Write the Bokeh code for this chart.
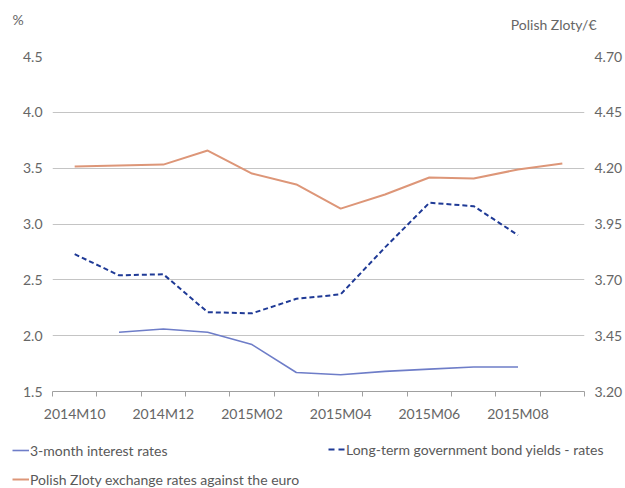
import numpy as np
from bokeh.plotting import figure
from bokeh.models import (Range1d, LinearAxis, FixedTicker, Legend, LegendItem,
                          NumeralTickFormatter, ColumnDataSource)
from bokeh.core.properties import value
from bokeh.embed import file_html
from bokeh.resources import INLINE

nan = np.nan
months = ["2014M10", "2014M11", "2014M12", "2015M01", "2015M02", "2015M03",
          "2015M04", "2015M05", "2015M06", "2015M07", "2015M08", "2015M09"]
rate_3m = [nan, 2.03, 2.06, 2.03, 1.92, 1.67, 1.65, 1.68, 1.70, 1.72, 1.72, nan]
bond_lt = [2.73, 2.54, 2.55, 2.21, 2.20, 2.33, 2.37, 2.79, 3.19, 3.16, 2.90, nan]
pln_eur = [4.207, 4.212, 4.216, 4.279, 4.176, 4.127, 4.019, 4.082, 4.158, 4.154, 4.194, 4.221]
left_ticks = [1.5, 2.0, 2.5, 3.0, 3.5, 4.0, 4.5]
right_ticks = [3.20, 3.45, 3.70, 3.95, 4.20, 4.45, 4.70]
left_unit = "%"
right_unit = "Polish Zloty/€"
names = ["3-month interest rates",
         "Long-term government bond yields - rates",
         "Polish Zloty exchange rates against the euro"]

FONT = "Lato"
GRAY = "#666666"
C_3M, C_LT, C_FX = "#6E7DC8", "#1F3A96", "#DD9678"
W = 625
HEAD_H = 40
FOOT_H = 58
MAIN_H = 488 - HEAD_H - FOOT_H

# ---------- header with the axis unit captions ----------
head = figure(width=W, height=HEAD_H, output_backend="svg", toolbar_location=None,
              x_range=Range1d(0, W), y_range=Range1d(HEAD_H, 0), min_border=0,
              x_axis_location=None, y_axis_location=None)
head.grid.visible = False
head.outline_line_color = None
head.text(x=[12], y=[19], text=[left_unit], text_font=value(FONT), text_font_size="14px",
          text_color=GRAY, text_baseline="middle", text_align="left")
head.text(x=[596], y=[24], text=[right_unit], text_font=value(FONT), text_font_size="14px",
          text_color=GRAY, text_baseline="middle", text_align="right")

# ---------- main chart ----------
x = [i + 0.5 for i in range(len(months))]
src = ColumnDataSource(dict(x=x, r3=rate_3m, lt=bond_lt, fx=pln_eur))

p = figure(width=W, height=MAIN_H, output_backend="svg", toolbar_location=None,
           x_range=Range1d(0, len(months)), y_range=Range1d(left_ticks[0], left_ticks[-1]),
           min_border_left=52, min_border_right=40, min_border_top=56 - HEAD_H,
           min_border_bottom=HEAD_H + MAIN_H - 391)
p.outline_line_color = None
p.extra_y_ranges = {"fx": Range1d(right_ticks[0], right_ticks[-1])}

xa = p.xaxis[0]
xa.ticker = FixedTicker(ticks=[x[i] for i in range(0, len(months), 2)],
                        minor_ticks=list(range(len(months) + 1)))
xa.major_label_overrides = {x[i]: months[i] for i in range(0, len(months), 2)}
xa.major_tick_line_color = None
xa.major_tick_out = 6
xa.major_label_standoff = 7
xa.minor_tick_in = 0
xa.minor_tick_out = 5
xa.minor_tick_line_color = "#a0a0a0"
xa.axis_line_color = "#a0a0a0"
xa.major_label_text_font = FONT
xa.major_label_text_font_size = "14px"
xa.major_label_text_color = GRAY

ya = p.yaxis[0]
ya.ticker = FixedTicker(ticks=left_ticks)
ya.formatter = NumeralTickFormatter(format="0.0")
ya.axis_line_color = None
ya.major_tick_line_color = None
ya.minor_tick_line_color = None
ya.major_tick_out = 0
ya.major_label_standoff = 10
ya.major_label_text_font = FONT
ya.major_label_text_font_size = "14px"
ya.major_label_text_color = GRAY

ra = LinearAxis(y_range_name="fx", ticker=FixedTicker(ticks=right_ticks),
                formatter=NumeralTickFormatter(format="0.00"))
ra.axis_line_color = None
ra.major_tick_line_color = None
ra.minor_tick_line_color = None
ra.major_tick_out = 0
ra.major_label_standoff = 10
ra.major_label_text_font = FONT
ra.major_label_text_font_size = "14px"
ra.major_label_text_color = GRAY
p.add_layout(ra, "right")

p.xgrid.visible = False
p.ygrid.ticker = FixedTicker(ticks=left_ticks)
p.ygrid.grid_line_color = "#c4c4c4"

p.line("x", "fx", source=src, y_range_name="fx", line_color=C_FX, line_width=2)
p.line("x", "lt", source=src, line_color=C_LT, line_width=2, line_dash="5 3")
p.line("x", "r3", source=src, line_color=C_3M, line_width=1.6)

# ---------- footer legend ----------
foot = figure(width=W, height=FOOT_H, output_backend="svg", toolbar_location=None,
              x_range=Range1d(0, 1), y_range=Range1d(0, 1), min_border=0,
              x_axis_location=None, y_axis_location=None)
foot.grid.visible = False
foot.outline_line_color = None
# legend keys only: their data lie outside the footer's visible range
k_3m = foot.line(x=[5, 6], y=[5, 6], line_color=C_3M, line_width=1.6)
k_lt = foot.line(x=[5, 6], y=[5, 6], line_color=C_LT, line_width=2, line_dash="6 4")
k_fx = foot.line(x=[5, 6], y=[5, 6], line_color=C_FX, line_width=2)

def mk_legend(items, loc):
    return Legend(items=items, location=loc, orientation="vertical",
                  label_text_font=FONT, label_text_font_size="14px",
                  label_text_color="#595959", glyph_width=17, glyph_height=18,
                  label_height=18, label_standoff=1, spacing=11, padding=0, margin=0,
                  background_fill_alpha=0, border_line_color=None)

lgA = mk_legend([LegendItem(label=names[0], renderers=[k_3m]),
                 LegendItem(label=names[2], renderers=[k_fx])], (12, 0))
lgB = mk_legend([LegendItem(label=names[1], renderers=[k_lt])], (328, 30))
foot.add_layout(lgA, "center")
foot.add_layout(lgB, "center")

open("out.html", "w").write(file_html([head, p, foot], INLINE))
